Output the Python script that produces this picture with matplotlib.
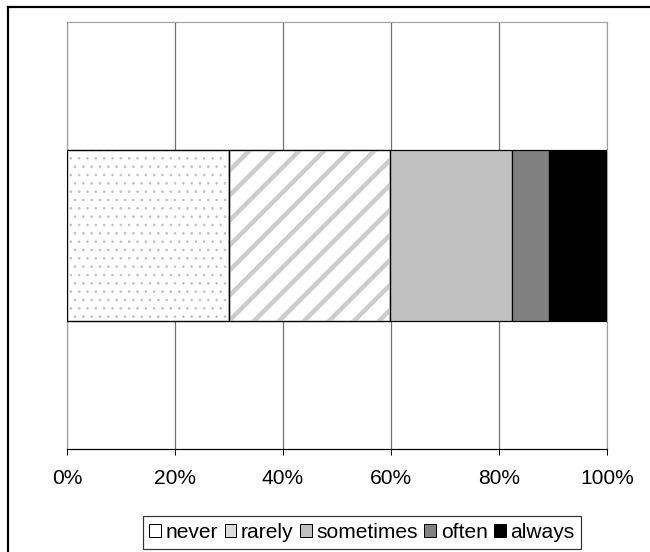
import matplotlib
matplotlib.use("Agg")
import matplotlib.pyplot as plt
from matplotlib.patches import Patch
from matplotlib.lines import Line2D

plt.rcParams['font.family'] = ['Liberation Sans', 'DejaVu Sans']

categories = ["never", "rarely", "sometimes", "often", "always"]
values = [30.0, 29.8, 22.6, 6.9, 10.7]
colors = ["white", "white", "#c0c0c0", "#808080", "black"]
hatches = ["...", "//", None, None, None]
hatch_colors = ["#c4c4c4", "#cccccc", "black", "black", "black"]
hatch_widths_px = [1.0, 4.5, 1.0, 1.0, 1.0]
legend_colors = ["white", "#dcdcdc", "#c0c0c0", "#808080", "black"]
tick_values = [0, 20, 40, 60, 80, 100]
tick_labels = ["0%", "20%", "40%", "60%", "80%", "100%"]

W, H = 650, 552
DPI = 150


def pt(px):
    return px * 72.0 / DPI


fig = plt.figure(figsize=(W / DPI, H / DPI), dpi=DPI)
ax = fig.add_axes([67 / W, 1 - 449 / H, 540 / W, 427 / H])

left = 0
for cat, v, c, h, hc, hw in zip(categories, values, colors, hatches,
                                 hatch_colors, hatch_widths_px):
    ax.barh(0, v, left=left, height=0.4, color=c, edgecolor="black",
            linewidth=pt(1.2), zorder=3)
    if h:
        with plt.rc_context({'hatch.linewidth': pt(hw)}):
            bars = ax.barh(0, v, left=left, height=0.4, color="none",
                           edgecolor=hc, hatch=h, linewidth=0, zorder=3.5)
        for b in bars:
            try:
                b.set_hatch_linewidth(pt(hw))
            except AttributeError:
                pass
        ax.barh(0, v, left=left, height=0.4, color="none", edgecolor="black",
                linewidth=pt(1.2), zorder=4)
    left += v

handles = [Patch(facecolor=lc, edgecolor="black", linewidth=pt(1.0), label=cat)
           for cat, lc in zip(categories, legend_colors)]

FS = pt(21)
ax.set_xlim(0, 100)
ax.set_ylim(-0.5, 0.5)
ax.set_xticks(tick_values)
ax.set_xticklabels(tick_labels, fontsize=FS)
ax.set_yticks([])
ax.tick_params(axis="x", direction="out", length=pt(6), width=pt(1),
               color="black", pad=pt(14))
ax.set_axisbelow(True)
ax.grid(axis="x", color="#707070", linewidth=pt(1.2), zorder=0)
for s in ["left", "top", "right"]:
    ax.spines[s].set_color("#a0a0a0")
    ax.spines[s].set_linewidth(pt(1.2))
ax.spines["bottom"].set_color("black")
ax.spines["bottom"].set_linewidth(pt(1.2))

leg = fig.legend(handles=handles, loc="center", ncol=5,
                 bbox_to_anchor=(362 / W, 1 - 532.5 / H), fontsize=FS,
                 frameon=True, fancybox=False, shadow=False,
                 handlelength=0.55, handleheight=0.55, handletextpad=0.22,
                 columnspacing=0.32, borderpad=0.32, borderaxespad=0)
leg.get_frame().set_edgecolor("black")
leg.get_frame().set_linewidth(pt(1.2))

# outer chart border (partially cropped on right/bottom)
fig.add_artist(Line2D([8 / W, 1.0], [1 - 7 / H, 1 - 7 / H], color="black",
                      linewidth=pt(2.2), transform=fig.transFigure))
fig.add_artist(Line2D([8 / W, 8 / W], [0, 1 - 7 / H], color="black",
                      linewidth=pt(2.2), transform=fig.transFigure))

fig.savefig("out.png", dpi=DPI)
